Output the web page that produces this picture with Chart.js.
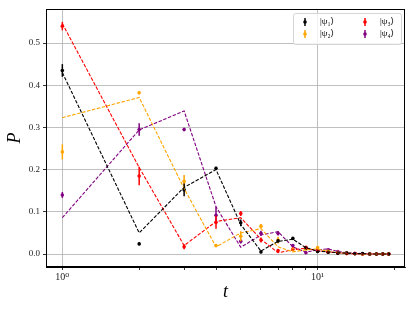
<!DOCTYPE html>
<html>
<head>
<meta charset="utf-8">
<script src="https://cdn.jsdelivr.net/npm/chart.js@4.4.0/dist/chart.umd.min.js"></script>
<style>
  html, body { margin: 0; padding: 0; background: #fff; }
  #wrap { width: 415px; height: 311px; }
</style>
</head>
<body>
<div id="wrap"><canvas id="chart" width="415" height="311"></canvas></div>
<script>
// time steps
var t = [1, 2, 3, 4, 5, 6, 7, 8, 9, 10, 11, 12, 13, 14, 15, 16, 17, 18, 19];

// model curves (dashed)
var model1 = [0.43, 0.05, 0.158, 0.20, 0.07, 0.007, 0.03, 0.035, 0.015, 0.007, 0.005, 0.003, 0.002, 0.001, 0.001, 0, 0, 0, 0];
var model2 = [0.323, 0.371, 0.155, 0.017, 0.05, 0.06, 0.017, 0.005, 0.01, 0.012, 0.006, 0.003, 0.002, 0.001, 0, 0, 0, 0, 0];
var model3 = [0.546, 0.205, 0.02, 0.077, 0.086, 0.035, 0.003, 0.01, 0.014, 0.008, 0.005, 0.003, 0.001, 0.001, 0, 0, 0, 0, 0];
var model4 = [0.086, 0.294, 0.339, 0.112, 0.016, 0.045, 0.053, 0.017, 0.004, 0.01, 0.012, 0.006, 0.003, 0.002, 0.001, 0, 0, 0, 0];

// measured points
var data1 = [0.435, 0.024, 0.152, 0.203, 0.074, 0.005, 0.031, 0.037, 0.014, 0.006, 0.004, 0.002, 0.002, 0.001, 0.001, 0, 0, 0, 0];
var data2 = [0.242, 0.382, 0.172, 0.02, 0.042, 0.066, 0.033, 0.01, 0.012, 0.015, 0.007, 0.004, 0.002, 0.001, 0, 0, 0, 0, 0];
var data3 = [0.54, 0.185, 0.017, 0.075, 0.096, 0.033, 0.008, 0.012, 0.016, 0.008, 0.004, 0.002, 0.001, 0.001, 0, 0, 0, 0, 0];
var data4 = [0.14, 0.295, 0.295, 0.092, 0.03, 0.049, 0.049, 0.02, 0.003, 0.008, 0.01, 0.006, 0.003, 0.001, 0, 0, 0, 0, 0];

// error bars (half widths)
var err1 = [0.015, 0.003, 0.015, 0.004, 0.008, 0.003, 0.003, 0.003, 0.002, 0.002, 0.002, 0.002, 0.002, 0.002, 0.002, 0.002, 0.002, 0.002, 0.002];
var err2 = [0.018, 0.004, 0.015, 0.003, 0.012, 0.005, 0.008, 0.003, 0.003, 0.003, 0.002, 0.002, 0.002, 0.002, 0.002, 0.002, 0.002, 0.002, 0.002];
var err3 = [0.01, 0.022, 0.006, 0.015, 0.006, 0.006, 0.004, 0.004, 0.003, 0.002, 0.002, 0.002, 0.002, 0.002, 0.002, 0.002, 0.002, 0.002, 0.002];
var err4 = [0.007, 0.015, 0.004, 0.02, 0.005, 0.006, 0.005, 0.003, 0.002, 0.002, 0.002, 0.002, 0.002, 0.002, 0.002, 0.002, 0.002, 0.002, 0.002];

var labels = ['|\u03c8\u2081\u27e9', '|\u03c8\u2082\u27e9', '|\u03c8\u2083\u27e9', '|\u03c8\u2084\u27e9'];
var colors = ['#000000', '#ffa500', '#ff0000', '#800080'];

var yTicks = [0, 0.1, 0.2, 0.3, 0.4, 0.5];
var xTicks = [1, 2, 3, 4, 5, 6, 7, 8, 9, 10, 20];

var models = [model1, model2, model3, model4];
var points = [data1, data2, data3, data4];
var errs = [err1, err2, err3, err4];

function pairs(vals) {
    return t.map(function(x, i) { return { x: x, y: vals[i] }; });
}

var datasets = [];
for (var k = 0; k < 4; k++) {
    datasets.push({
        type: 'line',
        label: labels[k] + ' model',
        data: pairs(models[k]),
        borderColor: colors[k],
        borderWidth: 1.1,
        borderDash: [3.5, 1.6],
        pointRadius: 0,
        fill: false,
        tension: 0
    });
}
for (var k = 0; k < 4; k++) {
    datasets.push({
        type: 'scatter',
        label: labels[k],
        data: pairs(points[k]),
        errors: errs[k],
        backgroundColor: colors[k],
        borderColor: colors[k],
        pointRadius: 1.8,
        pointBorderWidth: 0
    });
}

var serif = "'Liberation Serif', 'DejaVu Serif', serif";

var errorBars = {
    id: 'errorBars',
    afterDatasetDraw: function(chart, args) {
        var ds = chart.data.datasets[args.index];
        if (!ds.errors) return;
        var ctx = chart.ctx, xs = chart.scales.x, ys = chart.scales.y;
        ctx.save();
        ctx.strokeStyle = ds.borderColor;
        ctx.lineWidth = 1.5;
        ds.data.forEach(function(p, i) {
            var px = xs.getPixelForValue(p.x);
            ctx.beginPath();
            ctx.moveTo(px, ys.getPixelForValue(p.y - ds.errors[i]));
            ctx.lineTo(px, ys.getPixelForValue(p.y + ds.errors[i]));
            ctx.stroke();
        });
        ctx.restore();
    }
};

var frameAndLegend = {
    id: 'frameAndLegend',
    afterDraw: function(chart) {
        var ctx = chart.ctx, a = chart.chartArea;
        ctx.save();
        ctx.strokeStyle = '#000';
        ctx.lineWidth = 1;
        ctx.strokeRect(a.left + 0.5, a.top + 0.5, a.right - a.left - 1, a.bottom - a.top - 1);

        // legend box, upper right
        var bx = a.right - 112, by = a.top + 4, bw = 108, bh = 31;
        ctx.fillStyle = 'rgba(255,255,255,0.8)';
        ctx.strokeStyle = '#cccccc';
        ctx.lineWidth = 0.8;
        ctx.beginPath();
        ctx.roundRect(bx + 0.5, by + 0.5, bw, bh, 2);
        ctx.fill();
        ctx.stroke();

        ctx.font = '9px ' + serif;
        ctx.textBaseline = 'middle';
        ctx.textAlign = 'left';
        var cols = [bx + 12, bx + 72];
        var rows = [by + 9, by + 21];
        var order = [[0, 0], [0, 1], [1, 0], [1, 1]];
        for (var k = 0; k < 4; k++) {
            var cx = cols[order[k][0]], cy = rows[order[k][1]];
            ctx.strokeStyle = colors[k];
            ctx.fillStyle = colors[k];
            ctx.lineWidth = 1.5;
            ctx.beginPath();
            ctx.moveTo(cx, cy - 4);
            ctx.lineTo(cx, cy + 4);
            ctx.stroke();
            ctx.beginPath();
            ctx.arc(cx, cy, 1.8, 0, Math.PI * 2);
            ctx.fill();
            ctx.fillStyle = '#000';
            ctx.fillText(labels[k], cx + 15, cy);
        }
        ctx.restore();
    }
};

var ctx = document.getElementById('chart').getContext('2d');
var chart = new Chart(ctx, {
    data: { datasets: datasets },
    options: {
        responsive: false,
        animation: false,
        layout: { padding: { left: 0, right: 10, top: 9, bottom: 0 } },
        plugins: {
            legend: { display: false },
            tooltip: { enabled: false }
        },
        scales: {
            x: {
                type: 'logarithmic',
                min: 0.863,
                max: 22,
                afterBuildTicks: function(scale) {
                    scale.ticks = xTicks.map(function(v) { return { value: v }; });
                },
                afterFit: function(scale) { scale.height = 44; },
                ticks: {
                    autoSkip: false,
                    maxRotation: 0,
                    padding: 1,
                    color: '#222',
                    font: { family: serif, size: 10 },
                    callback: function(v) {
                        if (v === 1) return '10\u2070';
                        if (v === 10) return '10\u00b9';
                        return '';
                    }
                },
                grid: {
                    color: function(c) {
                        return c.tick && (c.tick.value === 1 || c.tick.value === 10) ? '#b0b0b0' : 'rgba(0,0,0,0)';
                    },
                    lineWidth: 0.8,
                    tickColor: '#000',
                    tickLength: 3
                },
                border: { color: '#000', width: 1 },
                title: {
                    display: true,
                    text: 't',
                    color: '#000',
                    font: { family: serif, size: 18, style: 'italic' },
                    padding: { top: 0, bottom: 8 }
                }
            },
            y: {
                min: -0.0308,
                max: 0.5806,
                afterBuildTicks: function(scale) {
                    scale.ticks = yTicks.map(function(v) { return { value: v }; });
                },
                afterFit: function(scale) { scale.width = 46; },
                ticks: {
                    padding: 3,
                    color: '#222',
                    font: { family: serif, size: 9 },
                    callback: function(v) { return v.toFixed(1); }
                },
                grid: {
                    color: '#b0b0b0',
                    lineWidth: 0.8,
                    tickColor: '#000',
                    tickLength: 3
                },
                border: { color: '#000', width: 1 },
                title: {
                    display: true,
                    text: 'P',
                    color: '#000',
                    font: { family: serif, size: 18, style: 'italic' },
                    padding: { top: 4, bottom: 0 }
                }
            }
        }
    },
    plugins: [errorBars, frameAndLegend]
});
</script>
</body>
</html>
